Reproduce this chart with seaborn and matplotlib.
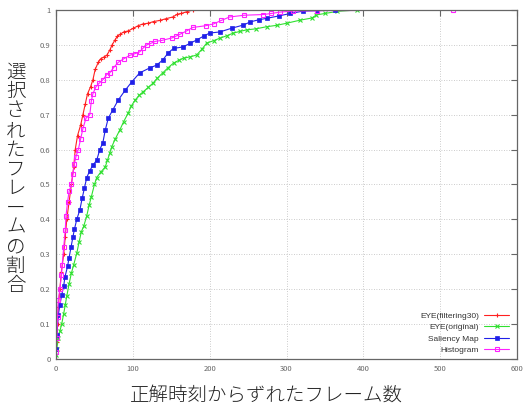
import pandas as pd
import matplotlib
matplotlib.use("Agg")
import matplotlib.pyplot as plt
import seaborn as sns

# ------------------------------
# Data
# ------------------------------
red_x = [0, 1, 2, 3, 5, 7, 10, 12, 14, 17, 20, 23, 25, 28, 32, 35, 38, 41, 45, 48,
         51, 55, 58, 62, 66, 70, 73, 77, 80, 83, 88, 94, 100, 107, 113, 120, 127,
         135, 143, 152, 158, 163, 170, 178]
red_y = [0.0, 0.05, 0.1, 0.15, 0.2, 0.25, 0.3, 0.35, 0.4, 0.45, 0.5, 0.55, 0.6, 0.64,
         0.67, 0.7, 0.73, 0.76, 0.78, 0.8, 0.83, 0.85, 0.86, 0.865, 0.87, 0.885, 0.9,
         0.915, 0.925, 0.93, 0.937, 0.94, 0.947, 0.955, 0.96, 0.962, 0.967, 0.97,
         0.975, 0.98, 0.988, 0.99, 0.995, 1.0]

green_x = [0, 1, 3, 5, 7.4, 10, 12, 14, 17, 20, 23, 27, 30, 33, 36, 40, 43, 46, 50,
           53, 58, 64, 67, 70, 72.5, 77, 83, 88, 94, 98, 103, 108, 113, 120, 126, 132,
           139, 146, 153, 160, 166, 175, 183, 190, 196, 205, 213, 222, 231, 240, 248,
           260, 274, 287, 300, 318, 333, 339, 350, 366, 392]
green_y = [0.01, 0.03, 0.06, 0.08, 0.1, 0.13, 0.155, 0.18, 0.215, 0.246, 0.27, 0.303,
           0.335, 0.365, 0.38, 0.41, 0.44, 0.465, 0.5, 0.52, 0.535, 0.55, 0.57, 0.59,
           0.608, 0.63, 0.656, 0.68, 0.705, 0.725, 0.742, 0.755, 0.765, 0.778, 0.79,
           0.805, 0.82, 0.835, 0.848, 0.856, 0.862, 0.866, 0.871, 0.888, 0.905, 0.912,
           0.919, 0.926, 0.934, 0.939, 0.943, 0.946, 0.952, 0.956, 0.962, 0.971, 0.977,
           0.986, 0.99, 0.996, 1.0]

blue_x = [0, 1, 3, 5, 7.4, 10, 11.7, 15, 17, 19.5, 22, 24, 27, 31, 34, 37, 40, 44, 48,
          53, 57, 61, 64, 68, 74, 81, 90, 99, 109, 122, 131, 139, 146, 153, 165, 175,
          183, 192, 200, 213, 229, 244, 253, 264, 274, 290, 305, 322, 340, 363]
blue_y = [0.03, 0.07, 0.126, 0.155, 0.183, 0.21, 0.236, 0.265, 0.29, 0.32, 0.35, 0.372,
          0.4, 0.427, 0.46, 0.49, 0.52, 0.54, 0.555, 0.57, 0.6, 0.62, 0.655, 0.69,
          0.714, 0.742, 0.77, 0.795, 0.82, 0.834, 0.842, 0.857, 0.877, 0.89, 0.894,
          0.905, 0.914, 0.925, 0.934, 0.937, 0.948, 0.957, 0.966, 0.972, 0.976, 0.983,
          0.99, 0.997, 0.998, 1.0]

mag_x = [0, 1, 2, 3, 5, 7, 8, 10, 12, 13, 15, 17, 20, 22, 24, 26, 29, 32, 35, 39, 44,
         46, 48, 52, 56, 61, 66, 70, 75, 81, 88, 96, 103, 109, 113, 118, 124, 129, 138,
         151, 156, 161, 170, 178, 195, 205, 215, 226, 245, 270, 280, 292, 308, 340, 517]
mag_y = [0.02, 0.06, 0.12, 0.17, 0.2, 0.24, 0.27, 0.32, 0.37, 0.41, 0.45, 0.48, 0.5,
         0.53, 0.56, 0.58, 0.6, 0.63, 0.66, 0.69, 0.7, 0.74, 0.76, 0.78, 0.79, 0.8,
         0.815, 0.82, 0.835, 0.85, 0.86, 0.87, 0.875, 0.88, 0.89, 0.9, 0.905, 0.91,
         0.913, 0.92, 0.925, 0.93, 0.94, 0.95, 0.955, 0.96, 0.97, 0.98, 0.985, 0.987,
         0.99, 0.994, 0.997, 0.998, 1.0]

series = [
    ("EYE(filtering30)", red_x, red_y, "#ff2020", "+", dict(mew=0.8)),
    ("EYE(original)", green_x, green_y, "#30e030", "x", dict(mew=0.8)),
    ("Saliency Map", blue_x, blue_y, "#2020e8", "s", dict(mew=0.5)),
    ("Histogram", mag_x, mag_y, "#ff20ff", "s", dict(mfc="none", mew=0.8)),
]

x_ticks = [0, 100, 200, 300, 400, 500, 600]
y_ticks = [0, 0.1, 0.2, 0.3, 0.4, 0.5, 0.6, 0.7, 0.8, 0.9, 1]
y_tick_labels = ["0", "0.1", "0.2", "0.3", "0.4", "0.5", "0.6", "0.7", "0.8", "0.9", "1"]
x_label = "正解時刻からずれたフレーム数"
y_label = "選択されたフレームの割合"

# ------------------------------
# Plot
# ------------------------------
sns.set_style("white")
plt.rcParams['font.family'] = ['Noto Sans CJK JP', 'DejaVu Sans']

fig = plt.figure(figsize=(5.27, 4.13), dpi=100)
ax = fig.add_axes([0.1063, 0.1308, 0.8747, 0.845])

for name, xs, ys, color, marker, mk in series:
    df = pd.DataFrame({"x": xs, "y": ys})
    sns.lineplot(data=df, x="x", y="y", ax=ax, color=color, marker=marker,
                 markersize=3.5, lw=0.8, label=name, estimator=None, sort=False,
                 mec=color, **mk)

ax.set_xlim(0, 600)
ax.set_ylim(0, 1)
ax.set_xticks(x_ticks)
ax.set_yticks(y_ticks)
ax.set_yticklabels(y_tick_labels)
ax.tick_params(direction="in", length=4, width=0.8, colors="#666666",
               labelsize=5.5, top=True, right=True, pad=4)
ax.grid(True, linestyle=(0, (1, 2)), color="#bbbbbb", lw=0.6)
for sp in ax.spines.values():
    sp.set_color("#666666")
    sp.set_linewidth(0.9)

ax.set_xlabel("")
ax.set_ylabel("")
fig.text(0.505, 0.044, x_label, ha="center", va="center", fontsize=14,
         color="#222222", fontweight="light")
fig.text(0.03, 0.567, "\n".join(y_label), ha="center", va="center", fontsize=14,
         color="#222222", linespacing=0.9, fontweight="light")

leg = ax.legend(loc="lower right", bbox_to_anchor=(0.99, 0.005), frameon=False,
                markerfirst=False, handlelength=3.0, labelspacing=0.42,
                handletextpad=0.6, borderaxespad=0.0,
                prop={"family": ["Liberation Sans"], "size": 6})
for t in leg.get_texts():
    t.set_color("#333333")

plt.savefig("out.png", dpi=100)
